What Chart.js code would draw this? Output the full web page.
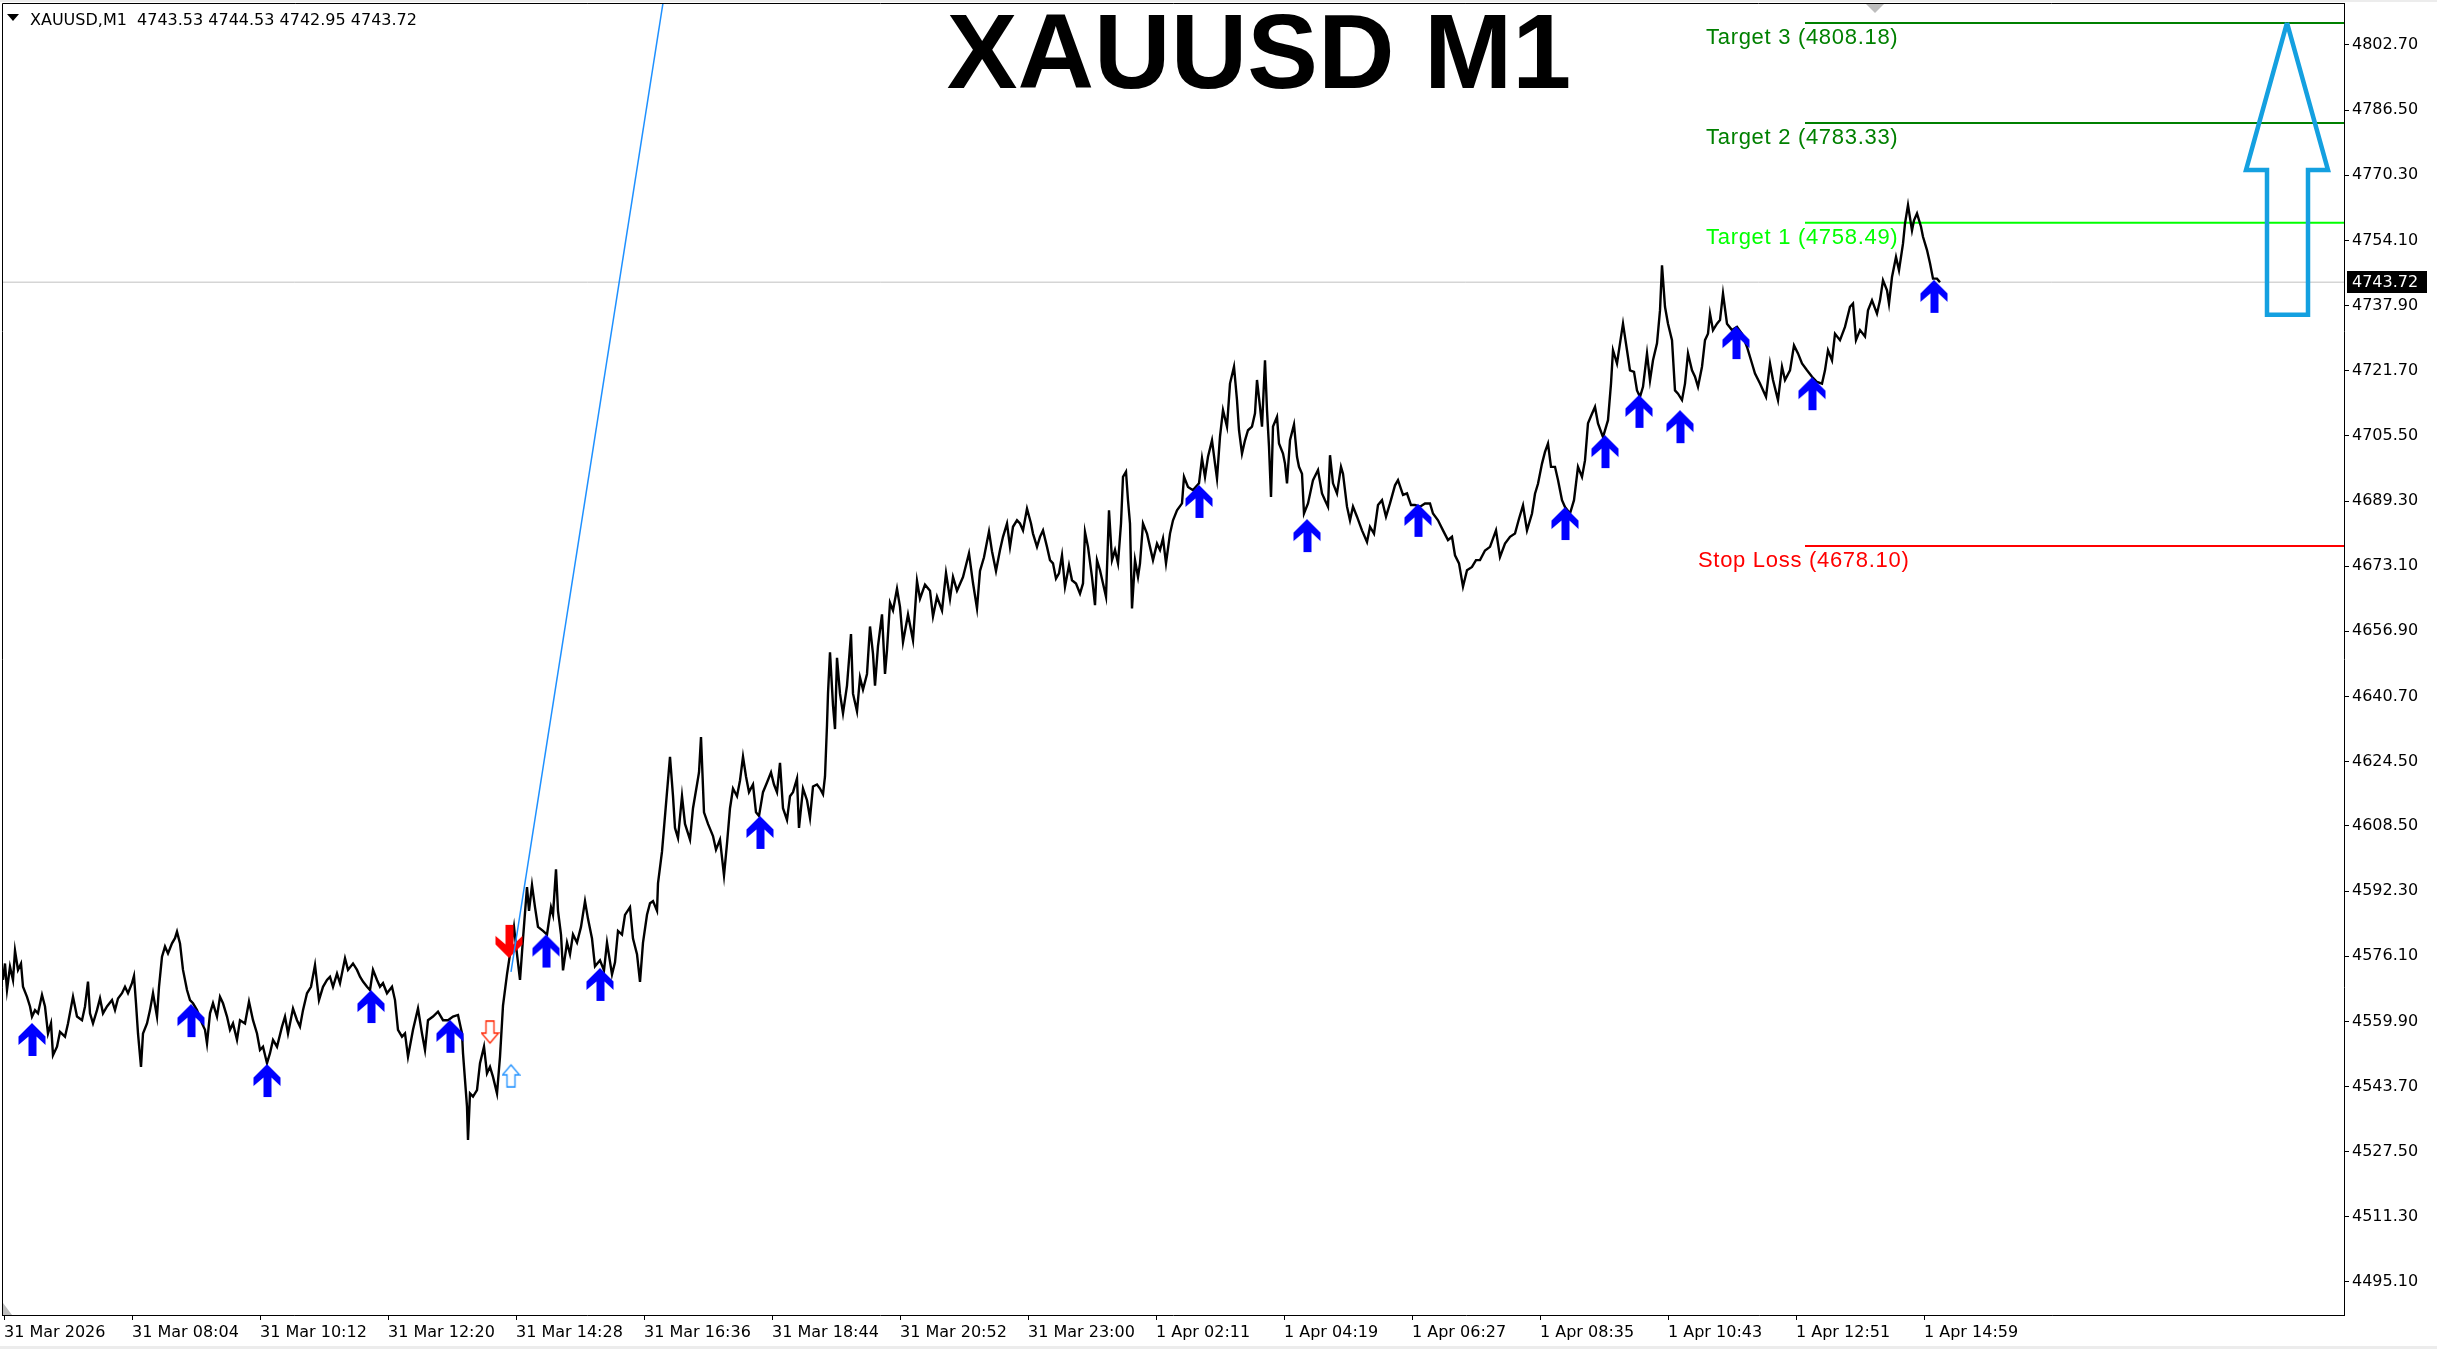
<!DOCTYPE html>
<html>
<head>
<meta charset="utf-8">
<title>XAUUSD M1</title>
<script src="https://cdn.jsdelivr.net/npm/chart.js"></script>
<style>
  html, body { margin: 0; padding: 0; background: #fff; }
  canvas { display: block; }
</style>
</head>
<body>
<canvas id="chart" width="2437" height="1349"></canvas>

<script>
// price path (x = bar slot, 1 bar per pixel at this zoom)
const barsA = [
  3, 5, 7, 10, 13, 15, 18, 21, 23, 27,
  30, 32, 35, 38, 42, 45, 48, 51, 53, 57,
  60, 65, 68, 73, 77, 82, 85, 88, 90, 93,
  97, 100, 103, 107, 112, 115, 118, 122, 125, 128,
  132, 134, 136, 138, 141, 143, 147, 150, 153, 157,
  159, 162, 165, 168, 172, 175, 177, 180, 183, 187,
  190, 193, 197, 202, 205, 207, 210, 213, 217, 220,
  223, 227, 230, 233, 237, 240, 245, 249, 253, 257,
  260, 263, 267, 270, 273, 277, 282, 285, 288, 293,
  297, 300, 303, 307, 311, 315, 319, 323, 327, 330,
  333, 337, 340, 345, 348, 353, 357, 360, 363, 367,
  370, 373, 377, 380, 383, 387, 392, 395, 398, 402,
  405, 408, 413, 418, 422, 425, 428, 433, 438, 443,
  448, 453, 458, 462, 463, 467, 468, 470, 473, 477,
  480, 484, 487, 490, 493, 497, 500
];
const pricesA = [
  4570.2, 4574.3, 4567.7, 4573.5, 4570.2, 4577.5, 4572.7, 4574.3, 4568.5, 4566.0,
  4563.6, 4561.1, 4562.7, 4561.9, 4566.5, 4563.6, 4556.9, 4559.4, 4551.5, 4553.6,
  4557.3, 4556.1, 4559.4, 4566.0, 4561.1, 4560.2, 4563.6, 4569.8, 4561.9, 4559.4,
  4562.7, 4565.6, 4561.9, 4563.6, 4565.2, 4562.7, 4565.6, 4566.9, 4568.5, 4566.9,
  4569.4, 4571.2, 4564.4, 4556.9, 4548.6, 4556.9, 4559.4, 4562.7, 4566.9, 4561.1,
  4568.5, 4576.0, 4578.5, 4576.8, 4579.3, 4580.6, 4582.2, 4579.3, 4572.7, 4567.7,
  4565.2, 4564.4, 4562.7, 4559.4, 4557.8, 4554.4, 4561.9, 4564.4, 4561.1, 4566.0,
  4564.4, 4561.1, 4557.8, 4559.4, 4555.3, 4560.2, 4559.4, 4564.8, 4560.2, 4556.9,
  4552.8, 4553.6, 4549.5, 4552.0, 4555.3, 4553.6, 4558.6, 4561.1, 4556.9, 4563.1,
  4560.2, 4558.6, 4562.7, 4566.9, 4568.5, 4573.9, 4565.2, 4568.5, 4570.2, 4571.0,
  4568.5, 4571.8, 4569.4, 4575.6, 4572.7, 4574.3, 4572.7, 4571.0, 4569.8, 4568.5,
  4567.7, 4572.7, 4570.2, 4568.5, 4569.4, 4566.9, 4568.5, 4565.2, 4557.8, 4556.1,
  4556.9, 4551.1, 4557.8, 4563.1, 4556.9, 4552.8, 4560.2, 4561.1, 4562.3, 4560.2,
  4560.2, 4561.1, 4561.5, 4556.9, 4552.0, 4538.7, 4530.4, 4542.0, 4541.2, 4542.8,
  4549.5, 4553.6, 4547.0, 4548.6, 4546.1, 4542.0, 4551.1
];

const barsB = [
  503, 507, 510, 514, 517, 520, 523, 527, 529, 532,
  535, 538, 543, 547, 551, 553, 556, 558, 561, 563,
  567, 570, 573, 577, 581, 585, 588, 592, 595, 600,
  604, 607, 612, 615, 618, 622, 625, 630, 633, 637,
  640, 643, 647, 650, 653, 657, 658, 662, 664, 667,
  670, 673, 675, 678, 682, 685, 690, 693, 697, 699,
  701, 704, 708, 713, 716, 720, 724, 727, 730, 733,
  737, 740, 743, 746, 749, 753, 756, 759, 763, 767,
  771, 774, 777, 780, 783, 787, 790, 793, 797, 799,
  803, 807, 810, 813, 817, 820, 823, 825, 827, 828,
  830, 833, 835, 837, 840, 843, 847, 851, 853, 857,
  860, 863, 867, 870, 873, 875, 878, 882, 885, 887,
  890, 893, 897, 900, 903, 908, 913, 917, 920, 925,
  930, 933, 937, 942, 946, 950, 953, 957, 963, 969,
  973, 977, 980, 984, 989, 992, 996
];
const pricesB = [
  4563.8, 4571.6, 4576.6, 4583.4, 4576.6, 4570.2, 4580.5, 4593.3, 4587.4, 4593.8,
  4588.3, 4583.4, 4582.4, 4581.5, 4588.3, 4586.4, 4597.7, 4587.4, 4581.5, 4572.6,
  4579.5, 4576.6, 4581.5, 4579.5, 4583.4, 4589.8, 4585.4, 4580.5, 4573.6, 4575.1,
  4572.6, 4579.5, 4571.6, 4574.6, 4582.4, 4581.5, 4586.4, 4588.3, 4580.5, 4576.6,
  4569.7, 4579.5, 4586.4, 4589.3, 4589.8, 4587.4, 4594.2, 4602.1, 4608.0, 4616.9,
  4625.7, 4615.9, 4608.0, 4605.5, 4615.9, 4609.0, 4605.1, 4612.9, 4618.8, 4621.8,
  4630.6, 4611.9, 4609.0, 4606.0, 4602.6, 4605.1, 4596.2, 4604.1, 4612.9, 4617.8,
  4615.9, 4619.8, 4625.7, 4620.8, 4616.9, 4618.8, 4611.9, 4611.0, 4616.9, 4619.3,
  4621.8, 4618.8, 4616.9, 4624.2, 4612.9, 4610.0, 4615.9, 4616.9, 4620.3, 4608.0,
  4617.8, 4614.9, 4610.5, 4618.3, 4618.8, 4617.8, 4616.4, 4620.8, 4633.6, 4641.4,
  4651.7, 4638.5, 4632.6, 4650.3, 4641.4, 4636.5, 4643.4, 4656.2, 4641.4, 4637.0,
  4645.4, 4642.4, 4646.3, 4658.1, 4651.3, 4643.4, 4653.2, 4661.1, 4646.3, 4652.2,
  4664.0, 4662.1, 4667.5, 4663.0, 4654.2, 4661.1, 4654.7, 4669.4, 4665.0, 4668.5,
  4667.0, 4660.6, 4665.5, 4662.1, 4671.4, 4665.0, 4670.4, 4667.0, 4670.4, 4676.3,
  4668.9, 4662.6, 4671.9, 4675.3, 4681.7, 4676.8, 4671.9
];

const barsC = [
  1000, 1003, 1007, 1010, 1013, 1017, 1020, 1023, 1027, 1031,
  1033, 1037, 1040, 1043, 1047, 1050, 1053, 1056, 1059, 1062,
  1065, 1069, 1072, 1076, 1080, 1083, 1085, 1088, 1092, 1095,
  1097, 1100, 1103, 1106, 1109, 1112, 1115, 1118, 1121, 1123,
  1126, 1128, 1130, 1132, 1135, 1138, 1140, 1143, 1147, 1150,
  1153, 1157, 1160, 1163, 1166, 1170, 1173, 1177, 1182, 1184,
  1188, 1193, 1199, 1202, 1205, 1208, 1212, 1215, 1217, 1220,
  1223, 1227, 1230, 1234, 1237, 1239, 1242, 1245, 1248, 1252,
  1255, 1257, 1260, 1262, 1265, 1267, 1269, 1271, 1273, 1277,
  1279, 1283, 1285, 1287, 1290, 1294, 1297, 1299, 1302, 1304,
  1308, 1313, 1318, 1322, 1325, 1328, 1330, 1333, 1337, 1341,
  1343, 1347, 1350, 1353, 1357, 1362, 1367, 1370, 1374, 1378,
  1382, 1386, 1390, 1395, 1398, 1403, 1407, 1411, 1415, 1420,
  1425, 1430, 1433, 1438, 1443, 1448, 1452, 1455, 1459, 1463,
  1467, 1472, 1476
];
const pricesC = [
  4677.1, 4680.4, 4683.7, 4677.9, 4682.9, 4684.5, 4683.7, 4682.0, 4687.4, 4683.7,
  4681.2, 4677.9, 4680.4, 4682.0, 4677.9, 4674.6, 4673.8, 4670.0, 4671.3, 4675.8,
  4668.0, 4673.3, 4669.6, 4668.8, 4666.3, 4668.8, 4681.6, 4677.9, 4670.4, 4663.4,
  4674.6, 4672.1, 4668.8, 4665.5, 4687.0, 4674.6, 4677.1, 4673.8, 4683.7, 4695.3,
  4696.6, 4689.5, 4683.7, 4662.6, 4674.6, 4670.4, 4673.8, 4683.7, 4681.2, 4677.9,
  4674.6, 4678.7, 4677.1, 4680.0, 4673.8, 4681.2, 4684.5, 4687.0, 4688.7, 4695.3,
  4692.8, 4692.0, 4693.7, 4699.9, 4695.3, 4700.3, 4704.4, 4698.6, 4694.9, 4705.3,
  4711.9, 4707.8, 4718.5, 4722.7, 4714.4, 4706.9, 4701.1, 4704.4, 4706.9, 4707.8,
  4711.1, 4719.4, 4712.7, 4707.8, 4724.3, 4711.9, 4702.8, 4690.3, 4707.8, 4710.2,
  4703.6, 4701.1, 4698.6, 4693.7, 4704.4, 4708.3, 4700.3, 4697.8, 4696.1, 4686.2,
  4688.7, 4694.5, 4697.0, 4691.2, 4689.5, 4687.9, 4700.7, 4693.7, 4691.2, 4697.8,
  4696.1, 4687.9, 4684.5, 4687.9, 4685.4, 4682.0, 4679.1, 4682.9, 4681.2, 4688.3,
  4689.5, 4685.4, 4688.7, 4693.2, 4694.5, 4690.8, 4691.2, 4688.3, 4688.3, 4687.9,
  4688.7, 4688.7, 4686.2, 4684.5, 4682.0, 4679.6, 4680.4, 4675.8, 4673.8, 4668.0,
  4672.1, 4672.9, 4674.6
];

const barsD = [
  1480, 1485, 1490, 1496, 1500, 1505, 1510, 1515, 1519, 1523,
  1527, 1532, 1535, 1538, 1542, 1545, 1548, 1551, 1555, 1558,
  1562, 1565, 1570, 1574, 1578, 1582, 1585, 1588, 1592, 1595,
  1598, 1603, 1608, 1611, 1613, 1617, 1620, 1623, 1627, 1630,
  1634, 1637, 1640, 1643, 1647, 1650, 1653, 1657, 1660, 1662,
  1665, 1668, 1672, 1675, 1678, 1682, 1685, 1688, 1692, 1695,
  1698, 1702, 1705, 1708, 1710, 1713, 1717, 1720, 1723, 1727,
  1732, 1737, 1742, 1747, 1752, 1755, 1760, 1766, 1770, 1773,
  1778, 1782, 1785, 1790, 1794, 1798, 1802, 1807, 1812, 1817,
  1822, 1825, 1828, 1832, 1835, 1840, 1845, 1850, 1853, 1856,
  1860, 1865, 1868, 1872, 1877, 1880, 1883, 1887, 1889, 1892,
  1896, 1899, 1903, 1905, 1908, 1912, 1914, 1917, 1921, 1923,
  1927, 1930, 1933, 1937, 1940
];
const pricesD = [
  4674.6, 4677.0, 4677.9, 4682.0, 4675.4, 4678.7, 4680.4, 4681.2, 4684.9, 4688.2,
  4682.0, 4686.2, 4691.1, 4693.6, 4698.6, 4701.5, 4703.6, 4697.8, 4697.8, 4694.5,
  4689.5, 4687.8, 4686.2, 4689.5, 4697.8, 4695.3, 4699.4, 4708.6, 4711.0, 4712.7,
  4708.6, 4705.2, 4709.4, 4718.5, 4726.8, 4723.5, 4728.5, 4733.4, 4726.8, 4721.8,
  4721.4, 4716.8, 4715.2, 4717.7, 4726.0, 4719.3, 4724.3, 4728.5, 4736.7, 4747.9,
  4737.6, 4733.4, 4729.3, 4716.8, 4716.0, 4714.4, 4718.5, 4726.0, 4721.8, 4720.2,
  4717.7, 4722.7, 4729.3, 4730.9, 4735.9, 4731.8, 4733.4, 4734.3, 4740.9, 4733.4,
  4731.8, 4732.6, 4730.9, 4727.6, 4723.5, 4721.0, 4718.5, 4715.2, 4723.5, 4719.4,
  4714.4, 4722.7, 4719.4, 4721.8, 4728.0, 4726.0, 4723.5, 4721.8, 4720.2, 4718.9,
  4718.5, 4721.8, 4726.8, 4724.3, 4730.9, 4729.3, 4732.6, 4737.6, 4738.4, 4729.3,
  4731.8, 4730.2, 4736.7, 4739.2, 4735.9, 4739.2, 4744.2, 4741.7, 4738.4, 4745.0,
  4750.0, 4746.7, 4753.3, 4758.3, 4762.9, 4756.6, 4759.1, 4760.8, 4757.5, 4755.0,
  4751.7, 4748.4, 4744.6, 4744.6, 4743.72
];

const priceBars = [...barsA, ...barsB, ...barsC, ...barsD];
const prices = [...pricesA, ...pricesB, ...pricesC, ...pricesD];

// last bar OHLC shown in the header
const lastOHLC = [4743.53, 4744.53, 4742.95, 4743.72];
const lastClose = lastOHLC[3];

// signal arrows (tip bar, tip price)
const buyArrowBars = [32, 191, 267, 371, 450, 546, 600, 760, 1199, 1307, 1418, 1565, 1605, 1639, 1680, 1736, 1812, 1934];
const buyArrowPrices = [4559.5, 4564.2, 4549.3, 4567.7, 4560.3, 4581.5, 4573.2, 4611.0, 4693.3, 4684.8, 4688.6, 4687.8, 4705.7, 4715.7, 4711.9, 4732.8, 4720.1, 4744.3];
const sellArrowBars = [509];
const sellArrowPrices = [4575.7];
const hollowSellBars = [490];
const hollowSellPrices = [4554.5];
const hollowBuyBars = [511];
const hollowBuyPrices = [4549.1];

// trend line (runs off the top of the chart)
const trendBars = [511, 700];
const trendPrices = [4572.2, 4871.8];

// target / stop levels
const levelNames = ['Target 3', 'Target 2', 'Target 1', 'Stop Loss'];
const levelPrices = [4808.18, 4783.33, 4758.49, 4678.10];
const levelColors = ['#008000', '#008000', '#00ff00', '#ff0000'];
const levelStartBar = 1805;
const levelLabelBars = [1706, 1706, 1706, 1698];

// big hollow arrow on the right
const bigArrowBars = [2287, 2328, 2308, 2308, 2267, 2267, 2246, 2287];
const bigArrowPrices = [4808.18, 4771.6, 4771.6, 4735.6, 4735.6, 4771.6, 4771.6, 4808.18];

// axes
const xFirstBar = 2, xLastBar = 2344;
const yMin = 4486.89, yMax = 4813.14;
const yTickLabels = ['4802.70', '4786.50', '4770.30', '4754.10', '4737.90', '4721.70', '4705.50', '4689.30',
  '4673.10', '4656.90', '4640.70', '4624.50', '4608.50', '4592.30', '4576.10', '4559.90', '4543.70',
  '4527.50', '4511.30', '4495.10'];
const xTickBars = [4, 132, 260, 388, 516, 644, 772, 900, 1028, 1156, 1284, 1412, 1540, 1668, 1796, 1924];
const xTickLabels = ['31 Mar 2026', '31 Mar 08:04', '31 Mar 10:12', '31 Mar 12:20', '31 Mar 14:28',
  '31 Mar 16:36', '31 Mar 18:44', '31 Mar 20:52', '31 Mar 23:00', '1 Apr 02:11', '1 Apr 04:19',
  '1 Apr 06:27', '1 Apr 08:35', '1 Apr 10:43', '1 Apr 12:51', '1 Apr 14:59'];
const shiftMarkBar = 1875;

const pts = (xs, ys) => xs.map((x, i) => ({ x: x, y: ys[i] }));

// chevron arrow sprite, tip sits at the sprite centre
function chevron(color, up) {
  const h = 34;
  const c = document.createElement('canvas');
  c.width = 28; c.height = h * 2;
  const g = c.getContext('2d');
  const shape = [[13.5, 0], [27, 13.5], [27, 22], [18, 13.5], [18, 33], [10, 33], [10, 13.5], [0, 22], [0, 13.5]];
  g.fillStyle = color;
  g.beginPath();
  shape.forEach(([sx, sy], i) => {
    const px = sx + 0.5, py = up ? h + sy : h - sy;
    if (i) g.lineTo(px, py); else g.moveTo(px, py);
  });
  g.closePath();
  g.fill();
  return c;
}

// small outlined block arrow
function hollow(color, up) {
  const h = 23;
  const c = document.createElement('canvas');
  c.width = 19; c.height = h * 2;
  const g = c.getContext('2d');
  const shape = [[8.5, 0], [17, 10], [12.5, 10], [12.5, 22], [4.5, 22], [4.5, 10], [0, 10]];
  g.beginPath();
  shape.forEach(([sx, sy], i) => {
    const px = sx + 1, py = up ? h + sy : h - sy;
    if (i) g.lineTo(px, py); else g.moveTo(px, py);
  });
  g.closePath();
  g.fillStyle = '#fff';
  g.fill();
  g.strokeStyle = color;
  g.lineWidth = 1.3;
  g.stroke();
  return c;
}

const markerSet = (data, sprite, order) => ({
  data: data, showLine: false, pointStyle: sprite, pointRadius: 10, pointHoverRadius: 10, order: order
});

const datasets = [
  { data: pts([xFirstBar, xLastBar], [lastClose, lastClose]), borderColor: '#c0c0c0', borderWidth: 1, pointRadius: 0, order: 20 },
  ...levelPrices.map((p, i) => ({
    data: pts([levelStartBar, xLastBar], [p, p]), borderColor: levelColors[i], borderWidth: 2, pointRadius: 0, order: 15
  })),
  { data: pts(bigArrowBars, bigArrowPrices), borderColor: '#14a0e0', borderWidth: 4.5, borderJoinStyle: 'miter', pointRadius: 0, order: 14 },
  { data: pts(priceBars, prices), borderColor: '#000', borderWidth: 2.4, borderJoinStyle: 'miter', pointRadius: 0, order: 10 },
  markerSet(pts(sellArrowBars, sellArrowPrices), chevron('#ff0000', false), 8),
  markerSet(pts(hollowSellBars, hollowSellPrices), hollow('#ff2400', false), 8),
  markerSet(pts(hollowBuyBars, hollowBuyPrices), hollow('#1e90ff', true), 8),
  { data: pts(trendBars, trendPrices), borderColor: '#1e90ff', borderWidth: 1.5, pointRadius: 0, order: 6 },
  markerSet(pts(buyArrowBars, buyArrowPrices), chevron('#0000ff', true), 2)
];

const decor = {
  id: 'decor',
  beforeDraw(chart) {
    const ctx = chart.ctx;
    ctx.save();
    ctx.fillStyle = '#fff';
    ctx.fillRect(0, 0, chart.width, chart.height);
    ctx.fillStyle = '#ececec';
    ctx.fillRect(0, 0, chart.width, 2);
    ctx.fillRect(0, chart.height - 3, chart.width, 3);
    ctx.restore();
  },
  afterDraw(chart) {
    const ctx = chart.ctx, a = chart.chartArea;
    const xs = chart.scales.x, ys = chart.scales.y;
    ctx.save();

    // frame top / left
    ctx.strokeStyle = '#000';
    ctx.lineWidth = 1;
    ctx.beginPath();
    ctx.moveTo(a.left + 0.5, a.bottom);
    ctx.lineTo(a.left + 0.5, a.top + 0.5);
    ctx.lineTo(a.right, a.top + 0.5);
    ctx.stroke();

    // chart shift marker and corner marker
    const sx = xs.getPixelForValue(shiftMarkBar);
    ctx.fillStyle = '#bdbdbd';
    ctx.beginPath();
    ctx.moveTo(sx - 9, a.top + 1);
    ctx.lineTo(sx + 9, a.top + 1);
    ctx.lineTo(sx, a.top + 10);
    ctx.closePath();
    ctx.fill();
    ctx.beginPath();
    ctx.moveTo(a.left + 1, a.bottom - 12);
    ctx.lineTo(a.left + 1, a.bottom);
    ctx.lineTo(a.left + 10, a.bottom);
    ctx.closePath();
    ctx.fill();

    // header
    ctx.fillStyle = '#000';
    ctx.beginPath();
    ctx.moveTo(7, 14);
    ctx.lineTo(19, 14);
    ctx.lineTo(13, 21);
    ctx.closePath();
    ctx.fill();
    ctx.font = '16px "DejaVu Sans"';
    ctx.textBaseline = 'alphabetic';
    ctx.textAlign = 'left';
    ctx.fillText('XAUUSD,M1  ' + lastOHLC.map(v => v.toFixed(2)).join(' '), 30, 25);

    // title
    ctx.font = 'bold 106px "Liberation Sans"';
    ctx.textAlign = 'center';
    ctx.fillText('XAUUSD M1', 1259, 88);

    // level labels
    ctx.textAlign = 'left';
    ctx.font = '22px "Liberation Sans"';
    ctx.letterSpacing = '0.7px';
    levelNames.forEach((n, i) => {
      const y = ys.getPixelForValue(levelPrices[i]);
      ctx.fillStyle = levelColors[i];
      ctx.fillText(n + ' (' + levelPrices[i].toFixed(2) + ')', xs.getPixelForValue(levelLabelBars[i]), y + 21);
    });
    ctx.letterSpacing = '0px';

    // current price box on the axis
    const py = Math.round(ys.getPixelForValue(lastClose));
    ctx.fillStyle = '#000';
    ctx.fillRect(a.right + 3, py - 11, 80, 22);
    ctx.fillStyle = '#fff';
    ctx.font = '16px "DejaVu Sans"';
    ctx.textBaseline = 'middle';
    ctx.fillText(lastClose.toFixed(2), a.right + 8, py + 1);
    ctx.restore();
  }
};

new Chart(document.getElementById('chart').getContext('2d'), {
  type: 'line',
  data: { datasets: datasets },
  options: {
    responsive: false,
    animation: false,
    devicePixelRatio: 1,
    events: [],
    layout: { autoPadding: false, padding: { left: 2, top: 3, right: 0, bottom: 0 } },
    plugins: { legend: { display: false }, tooltip: { enabled: false } },
    elements: { line: { tension: 0 } },
    scales: {
      x: {
        type: 'linear',
        min: xFirstBar,
        max: xLastBar,
        afterBuildTicks: s => { s.ticks = xTickBars.map(v => ({ value: v })); },
        afterFit: s => { s.height = 34; s.paddingLeft = 0; s.paddingRight = 0; },
        ticks: {
          autoSkip: false, maxRotation: 0, minRotation: 0, align: 'start', padding: 3,
          color: '#000', font: { family: 'DejaVu Sans', size: 16 },
          callback: (v, i) => xTickLabels[i]
        },
        grid: { drawOnChartArea: false, drawTicks: true, tickLength: 5, color: '#000' },
        border: { display: true, color: '#000', width: 1 }
      },
      y: {
        type: 'linear',
        position: 'right',
        min: yMin,
        max: yMax,
        afterBuildTicks: s => { s.ticks = yTickLabels.map(t => ({ value: parseFloat(t) })); },
        afterFit: s => { s.width = 93; s.paddingTop = 0; s.paddingBottom = 0; },
        ticks: {
          autoSkip: false, padding: 3,
          color: '#000', font: { family: 'DejaVu Sans', size: 16 },
          callback: (v, i) => yTickLabels[i]
        },
        grid: { drawOnChartArea: false, drawTicks: true, tickLength: 5, color: '#000' },
        border: { display: true, color: '#000', width: 1 }
      }
    }
  },
  plugins: [decor]
});
</script>
</body>
</html>
